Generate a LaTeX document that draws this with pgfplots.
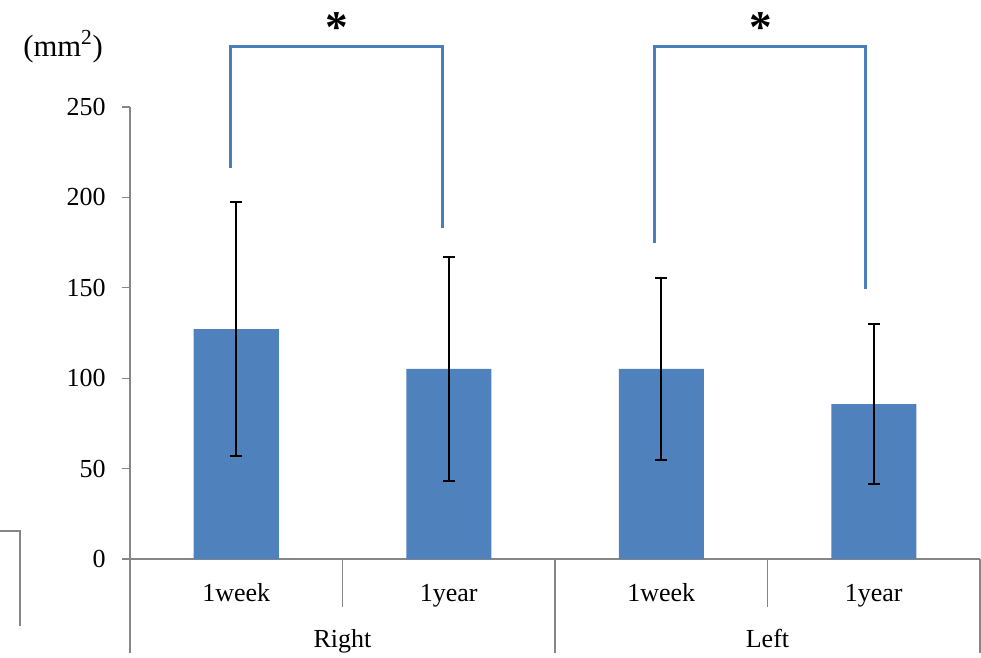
\documentclass[border=0pt]{standalone}
\usepackage{pgfplots}
\pgfplotsset{compat=1.18}
\usepackage{fontspec}
\setmainfont{Liberation Serif}
\definecolor{barblue}{RGB}{79,129,189}
\definecolor{brk}{RGB}{74,126,187}
\definecolor{axgray}{RGB}{134,134,134}
\begin{document}
\fontsize{19.5}{23}\selectfont
\begin{tikzpicture}
\begin{axis}[
  at={(0,0)}, anchor=south west,
  scale only axis, width=637.5pt, height=339pt,
  xmin=-0.5, xmax=3.5, ymin=0, ymax=250,
  clip=false,
  axis lines*=left,
  axis line style={axgray, line width=1pt, -},
  ytick={0,50,100,150,200,250},
  tick align=outside, major tick length=6pt,
  ytick style={axgray, line width=1pt},
  xtick style={draw=none},
  yticklabel style={anchor=east, inner sep=0pt, xshift=-12pt},
  /pgf/number format/assume math mode=true,
  xtick={0,1,2,3},
  xticklabels={1week,1year,1week,1year},
  xticklabel style={anchor=base, yshift=-25.5pt},
]
\addplot[ybar, bar width=0.4, fill=barblue, draw=none,
  error bars/.cd, y dir=both, y explicit,
  error bar style={black, line width=1.5pt},
  error mark options={black, line width=1.5pt, mark size=4.5pt, rotate=90}]
  coordinates {
  (0,127.2) +- (0,70.2)
  (1,105.1) +- (0,62.2)
  (2,105.1) +- (0,50.4)
  (3,85.7)  +- (0,44.2)
  };
% category separators
\draw[axgray, line width=1pt] (axis cs:-0.5,0) -- ([yshift=-70.5pt]axis cs:-0.5,0);
\draw[axgray, line width=1pt] (axis cs:0.5,0) -- ([yshift=-36pt]axis cs:0.5,0);
\draw[axgray, line width=1pt] (axis cs:1.5,0) -- ([yshift=-70.5pt]axis cs:1.5,0);
\draw[axgray, line width=1pt] (axis cs:2.5,0) -- ([yshift=-36pt]axis cs:2.5,0);
\draw[axgray, line width=1pt] (axis cs:3.5,0) -- ([yshift=-70.5pt]axis cs:3.5,0);
\node[anchor=base, yshift=-66pt] at (axis cs:0.5,0) {Right};
\node[anchor=base, yshift=-66pt] at (axis cs:2.5,0) {Left};
% unit label
\node[font=\fontsize{23}{27}\selectfont] at (axis cs:-0.815,283.2) {(mm\textsuperscript{2})};
% significance brackets
\draw[brk, line width=2.2pt] (axis cs:-0.027,216.4) |- (axis cs:0.969,283.7) -- (axis cs:0.969,183.2);
\draw[brk, line width=2.2pt] (axis cs:1.967,174.6) |- (axis cs:2.962,283.7) -- (axis cs:2.962,149.3);
\node[anchor=north, inner sep=0pt, font=\fontsize{34}{38}\selectfont\bfseries] at (axis cs:0.475,302.5) {*};
\node[anchor=north, inner sep=0pt, font=\fontsize{34}{38}\selectfont\bfseries] at (axis cs:2.47,302.5) {*};
% stray frame fragment at lower left
\draw[axgray, line width=1pt] (axis cs:-1.1118,15.5) -- (axis cs:-1.0176,15.5) -- (axis cs:-1.0176,-37.1);
\end{axis}
\pgfresetboundingbox
\path (-97.5pt,-73.5pt) rectangle (638.25pt,419.25pt);
\end{tikzpicture}
\end{document}
